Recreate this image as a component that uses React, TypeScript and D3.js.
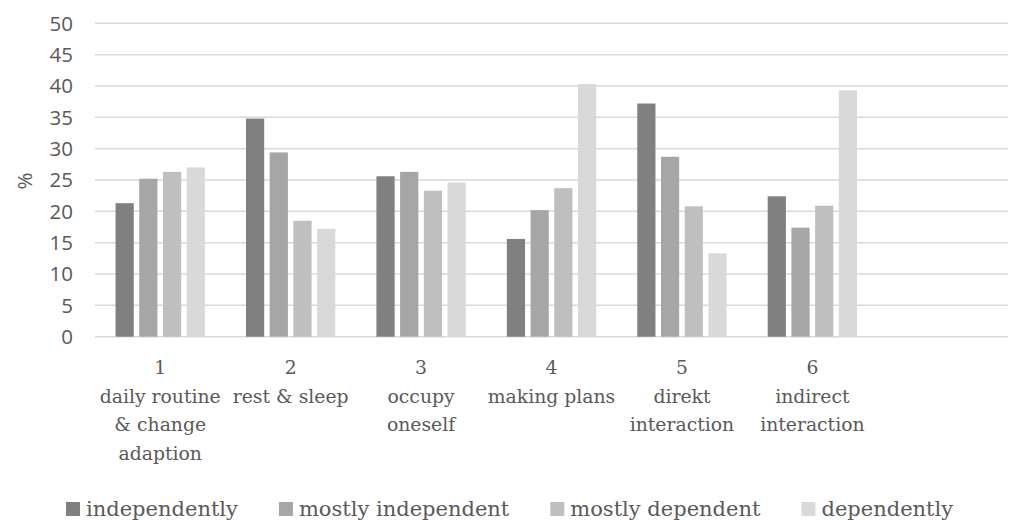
import React, { useEffect, useRef } from "react";
import * as d3 from "d3";

// Category slots along the x axis (the last slot is intentionally empty)
const categoryNumbers: string[] = ["1", "2", "3", "4", "5", "6", ""];
const categoryNames: string[][] = [
  ["daily routine", "& change", "adaption"],
  ["rest & sleep"],
  ["occupy", "oneself"],
  ["making plans"],
  ["direkt", "interaction"],
  ["indirect", "interaction"],
  [],
];

const seriesNames: string[] = [
  "independently",
  "mostly independent",
  "mostly dependent",
  "dependently",
];
const seriesColors: string[] = ["#808080", "#a6a6a6", "#bfbfbf", "#d9d9d9"];

// Percent values per series, one entry per filled category
const independently: number[] = [21.3, 34.8, 25.6, 15.6, 37.2, 22.4];
const mostlyIndependent: number[] = [25.2, 29.4, 26.3, 20.2, 28.7, 17.4];
const mostlyDependent: number[] = [26.3, 18.5, 23.3, 23.7, 20.8, 20.9];
const dependently: number[] = [27.0, 17.2, 24.6, 40.3, 13.3, 39.3];

const yTicks: number[] = [0, 5, 10, 15, 20, 25, 30, 35, 40, 45, 50];

const W = 1009;
const H = 520;
const TEXT = "#595959";

export default function App() {
  const ref = useRef<SVGSVGElement | null>(null);

  useEffect(() => {
    const svg = d3.select(ref.current);
    svg.selectAll("*").remove();

    const left = 95;
    const right = 1008;
    const top = 23.3;
    const bottom = 336.7;

    const x = d3
      .scaleBand<number>()
      .domain(d3.range(categoryNumbers.length))
      .range([left, right])
      .padding(0);
    const y = d3.scaleLinear().domain([0, 50]).range([bottom, top]);

    // gridlines
    svg
      .append("g")
      .selectAll("line")
      .data(yTicks)
      .join("line")
      .attr("x1", left)
      .attr("x2", right)
      .attr("y1", (d) => y(d))
      .attr("y2", (d) => y(d))
      .attr("stroke", "#d9d9d9")
      .attr("stroke-width", 1.5);

    // y tick labels
    svg
      .append("g")
      .selectAll("text")
      .data(yTicks)
      .join("text")
      .attr("x", 73)
      .attr("y", (d) => y(d))
      .attr("dy", "0.36em")
      .attr("text-anchor", "end")
      .attr("font-family", "'Open Sans', sans-serif")
      .attr("font-size", 20.5)
      .attr("fill", TEXT)
      .text((d) => String(d));

    // y axis title
    svg
      .append("text")
      .attr("transform", "translate(32,181) rotate(-90)")
      .attr("text-anchor", "middle")
      .attr("font-family", "'Open Sans', sans-serif")
      .attr("font-size", 20.5)
      .attr("fill", TEXT)
      .text("%");

    // bars
    const series = [independently, mostlyIndependent, mostlyDependent, dependently];
    const groupWidth = x.bandwidth() * 0.727;
    const inner = d3
      .scaleBand<number>()
      .domain(d3.range(series.length))
      .range([0, groupWidth])
      .padding(0);
    const barW = inner.bandwidth() - 5.5;

    series.forEach((vals, si) => {
      svg
        .append("g")
        .selectAll("rect")
        .data(vals)
        .join("rect")
        .attr(
          "x",
          (_, i) =>
            (x(i) as number) +
            (x.bandwidth() - groupWidth) / 2 +
            (inner(si) as number) +
            (inner.bandwidth() - barW) / 2
        )
        .attr("y", (d) => y(d))
        .attr("width", barW)
        .attr("height", (d) => y(0) - y(d))
        .attr("fill", seriesColors[si]);
    });

    // category labels
    const lineGap = 28.6;
    const cat = svg
      .append("g")
      .attr("font-family", "'DejaVu Serif', serif")
      .attr("font-size", 18.8)
      .attr("fill", TEXT);
    categoryNumbers.forEach((num, i) => {
      if (!num) return;
      const cx = (x(i) as number) + x.bandwidth() / 2;
      const lines = [num, ...categoryNames[i]];
      lines.forEach((ln, li) => {
        cat
          .append("text")
          .attr("x", cx)
          .attr("y", 374 + li * lineGap)
          .attr("text-anchor", "middle")
          .text(ln);
      });
    });

    // legend
    const legend = svg.append("g");
    let lx = 66;
    seriesNames.forEach((name, si) => {
      legend
        .append("rect")
        .attr("x", lx)
        .attr("y", 502)
        .attr("width", 14)
        .attr("height", 14)
        .attr("fill", seriesColors[si]);
      const t = legend
        .append("text")
        .attr("x", lx + 20)
        .attr("y", 516)
        .attr("font-family", "'DejaVu Serif', serif")
        .attr("font-size", 21)
        .attr("fill", TEXT)
        .text(name);
      const tw = (t.node() as SVGTextElement).getComputedTextLength();
      lx = lx + 20 + tw + 41;
    });
  }, []);

  return (
    <svg
      ref={ref}
      width={W}
      height={H}
      style={{ position: "absolute", left: 0, top: 0, background: "#fff" }}
    />
  );
}
